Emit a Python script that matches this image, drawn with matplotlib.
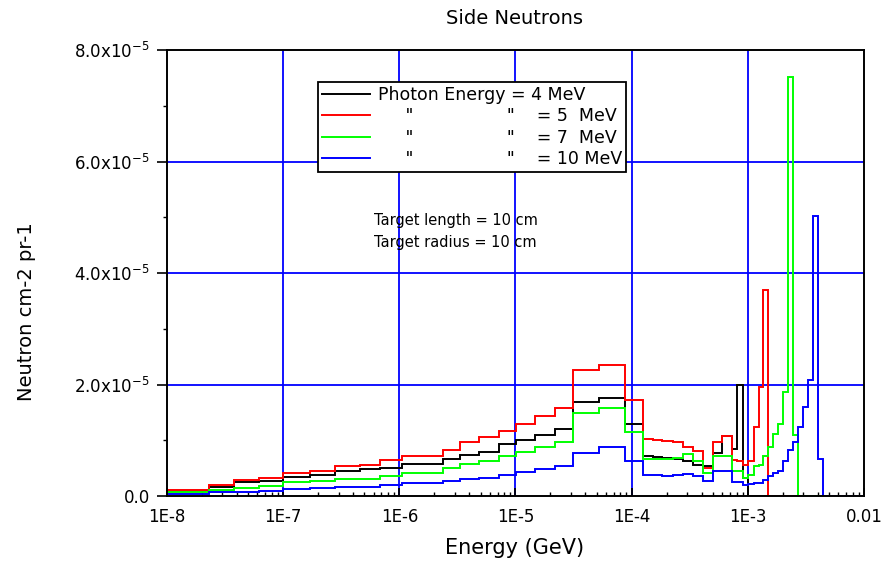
import matplotlib
matplotlib.use("Agg")
import matplotlib.pyplot as plt
from matplotlib.lines import Line2D
from matplotlib.ticker import FixedLocator, FixedFormatter, LogLocator, NullFormatter
import numpy as np

plt.rcParams['font.family'] = ['DejaVu Sans']

# Energy bin edges (GeV)
energy_edges = [
    1.0e-8, 2.30e-8, 3.78e-8, 6.19e-8, 1.0e-7, 1.70e-7, 2.79e-7, 4.58e-7,
    6.82e-7, 1.05e-6, 2.38e-6, 3.33e-6, 4.85e-6, 7.21e-6, 1.02e-5, 1.47e-5,
    2.19e-5, 3.14e-5, 5.26e-5, 8.77e-5, 1.26e-4, 1.52e-4, 1.82e-4, 2.27e-4,
    2.77e-4, 3.35e-4, 4.08e-4, 4.97e-4, 6.05e-4, 7.31e-4, 8.07e-4, 9.14e-4,
    1.01e-3, 1.12e-3, 1.24e-3, 1.36e-3, 1.48e-3, 1.66e-3, 1.83e-3, 2.02e-3,
    2.23e-3, 2.46e-3, 2.72e-3, 3.00e-3, 3.31e-3, 3.66e-3, 4.04e-3, 4.47e-3,
    1.0e-2,
]

# Neutron fluence per bin, in units of 1e-5 neutron cm-2 per primary
flux_4mev = [
    0.09, 0.17, 0.25, 0.27, 0.34, 0.38, 0.45, 0.48, 0.51, 0.57, 0.66, 0.74,
    0.79, 0.93, 1.00, 1.09, 1.20, 1.69, 1.75, 1.30, 0.72, 0.70, 0.68, 0.67,
    0.63, 0.56, 0.53, 0.78, 1.07, 0.84, 2.00, 0.33, 0.0, 0.0, 0.0, 0.0,
    0.0, 0.0, 0.0, 0.0, 0.0, 0.0, 0.0, 0.0, 0.0, 0.0, 0.0, 0.0,
]
flux_5mev = [
    0.10, 0.20, 0.29, 0.32, 0.41, 0.45, 0.54, 0.55, 0.64, 0.72, 0.83, 0.96,
    1.06, 1.17, 1.29, 1.43, 1.58, 2.26, 2.35, 1.72, 1.03, 1.00, 0.99, 0.97,
    0.88, 0.80, 0.51, 0.97, 1.08, 0.64, 0.63, 0.56, 0.62, 1.24, 1.96, 3.70,
    0.0, 0.0, 0.0, 0.0, 0.0, 0.0, 0.0, 0.0, 0.0, 0.0, 0.0, 0.0,
]
flux_7mev = [
    0.08, 0.11, 0.15, 0.18, 0.25, 0.27, 0.30, 0.31, 0.36, 0.42, 0.50, 0.57,
    0.63, 0.72, 0.79, 0.88, 0.97, 1.49, 1.57, 1.15, 0.66, 0.66, 0.67, 0.68,
    0.76, 0.62, 0.42, 0.72, 0.72, 0.45, 0.45, 0.33, 0.38, 0.53, 0.56, 0.72,
    0.88, 1.12, 1.29, 1.87, 7.51, 1.09, 0.0, 0.0, 0.0, 0.0, 0.0, 0.0,
]
flux_10mev = [
    0.04, 0.07, 0.08, 0.09, 0.12, 0.15, 0.17, 0.17, 0.20, 0.24, 0.27, 0.31,
    0.33, 0.37, 0.43, 0.48, 0.54, 0.77, 0.88, 0.63, 0.38, 0.38, 0.35, 0.38,
    0.39, 0.35, 0.27, 0.44, 0.44, 0.25, 0.25, 0.19, 0.21, 0.23, 0.23, 0.29,
    0.35, 0.41, 0.44, 0.62, 0.83, 0.97, 1.24, 1.60, 2.08, 5.02, 0.66, 0.0,
]
FLUX_UNIT = 1e-5

series_labels = [
    'Photon Energy = 4 MeV',
    '     "                 "    = 5  MeV',
    '     "                 "    = 7  MeV',
    '     "                 "    = 10 MeV',
]
series_colors = ['#000000', '#ff0000', '#00ff00', '#0000ff']

x_tick_values = [1e-8, 1e-7, 1e-6, 1e-5, 1e-4, 1e-3, 1e-2]
x_tick_labels = ['1E-8', '1E-7', '1E-6', '1E-5', '1E-4', '1E-3', '0.01']
y_tick_values = [0.0, 2e-5, 4e-5, 6e-5, 8e-5]
y_tick_labels = ['0.0', r'2.0x10$^{-5}$', r'4.0x10$^{-5}$',
                 r'6.0x10$^{-5}$', r'8.0x10$^{-5}$']

W, H = 886, 563
fig = plt.figure(figsize=(W / 100, H / 100), dpi=100)
ax = fig.add_axes([167 / W, 1 - 496 / H, (864 - 167) / W, (496 - 50) / H])

ax.set_xscale('log')
ax.set_xlim(1e-8, 1e-2)
ax.set_ylim(0, 8e-5)

# Blue grid at the major ticks
for xv in x_tick_values[1:-1]:
    ax.axvline(xv, color='#0000ff', lw=1.3, zorder=1)
for yv in y_tick_values[1:-1]:
    ax.axhline(yv, color='#0000ff', lw=1.3, zorder=1)

edges = np.array(energy_edges)
all_flux = [flux_4mev, flux_5mev, flux_7mev, flux_10mev]
for i, (flux, color) in enumerate(zip(all_flux, series_colors)):
    ax.stairs(np.array(flux) * FLUX_UNIT, edges, color=color, lw=1.4,
              baseline=None, zorder=3 + i)

# Axes ticks
ax.xaxis.set_major_locator(FixedLocator(x_tick_values))
ax.xaxis.set_major_formatter(FixedFormatter(x_tick_labels))
ax.xaxis.set_minor_locator(LogLocator(base=10, subs=np.arange(2, 10), numticks=20))
ax.xaxis.set_minor_formatter(NullFormatter())
ax.yaxis.set_major_locator(FixedLocator(y_tick_values))
ax.yaxis.set_major_formatter(FixedFormatter(y_tick_labels))
ax.yaxis.set_minor_locator(FixedLocator([1e-5, 3e-5, 5e-5, 7e-5]))

ax.tick_params(axis='x', which='major', direction='in', length=6, width=1.3,
               labelsize=12, pad=9, top=False)
ax.tick_params(axis='x', which='minor', direction='in', length=3, width=1.0, top=False)
ax.tick_params(axis='y', which='major', direction='out', length=7.5, width=1.2,
               labelsize=12, pad=5, right=False)
ax.tick_params(axis='y', which='minor', direction='out', length=3, width=1.0, right=False)

for sp in ax.spines.values():
    sp.set_linewidth(1.4)
    sp.set_color('black')
    sp.set_zorder(10)

# Legend
handles = [Line2D([], [], color=c, lw=1.4) for c in series_colors]
leg = ax.legend(handles, series_labels, loc='upper left',
                bbox_to_anchor=((318 - 167) / 697, (496 - 82) / 446),
                borderaxespad=0, fontsize=12.5, frameon=True, fancybox=False,
                edgecolor='black', framealpha=1, handlelength=2.8,
                handletextpad=0.45, labelspacing=0.2, borderpad=0.22)
leg.get_frame().set_linewidth(1.3)
leg.set_zorder(20)

# Target description
ax.text((374 - 167) / 697, (496 - 221) / 446, 'Target length = 10 cm',
        transform=ax.transAxes, fontsize=10.5, ha='left', va='center')
ax.text((374 - 167) / 697, (496 - 242) / 446, 'Target radius = 10 cm',
        transform=ax.transAxes, fontsize=10.5, ha='left', va='center')

fig.text(515 / W, 1 - 19 / H, 'Side Neutrons', fontsize=14, ha='center', va='center')
fig.text(515 / W, 1 - 548 / H, 'Energy (GeV)', fontsize=15, ha='center', va='center')
fig.text(27 / W, 1 - 312 / H, 'Neutron cm-2 pr-1', fontsize=14, ha='center',
         va='center', rotation=90)

fig.savefig('out.png', dpi=100)
